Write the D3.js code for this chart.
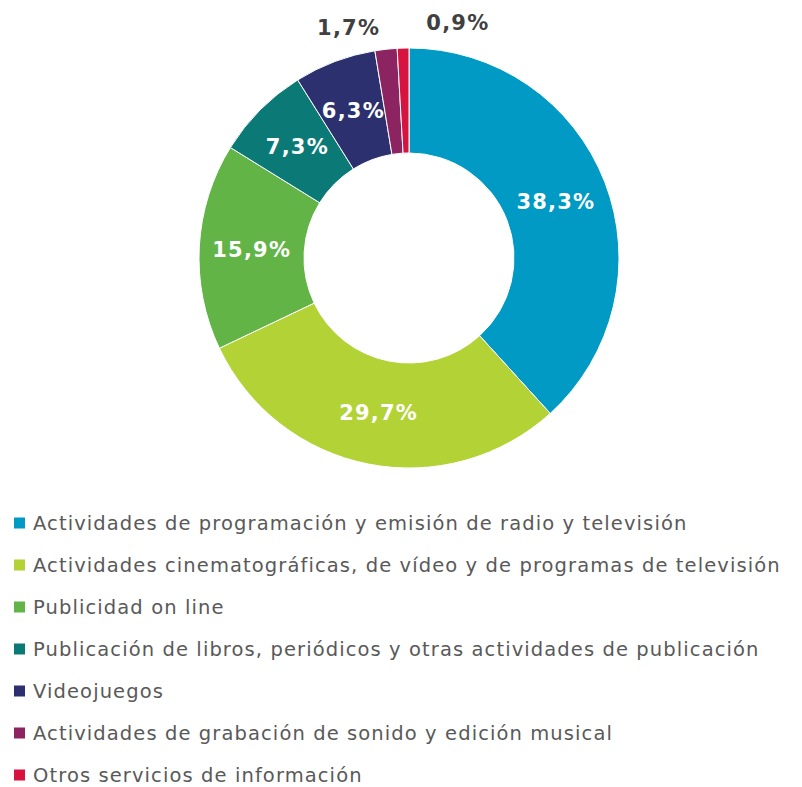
<!DOCTYPE html>
<html>
<head>
<meta charset="utf-8">
<script src="https://cdn.jsdelivr.net/npm/d3@7"></script>
<style>
  body { margin: 0; background: #fff; }
  svg { display: block; font-family: "DejaVu Sans", Verdana, sans-serif; }
</style>
</head>
<body>
<svg id="chart" width="802" height="787"></svg>
<script>
  var categories = [
    "Actividades de programación y emisión de radio y televisión",
    "Actividades cinematográficas, de vídeo y de programas de televisión",
    "Publicidad on line",
    "Publicación de libros, periódicos y otras actividades de publicación",
    "Videojuegos",
    "Actividades de grabación de sonido y edición musical",
    "Otros servicios de información"
  ];
  var shares = [38.3, 29.7, 15.9, 7.3, 6.3, 1.7, 0.9];
  var labels = ["38,3%", "29,7%", "15,9%", "7,3%", "6,3%", "1,7%", "0,9%"];
  var colors = ["#009ac4", "#b2d235", "#62b446", "#0b7a77", "#2c306e", "#8b2460", "#d6143f"];

  var cx = 409, cy = 258;
  var outer = 210, inner = 105;

  var svg = d3.select("#chart");
  var g = svg.append("g").attr("transform", "translate(" + cx + "," + cy + ")");

  var pie = d3.pie().sort(null).value(function(d) { return d; });
  var arcs = pie(shares);
  var arc = d3.arc().innerRadius(inner).outerRadius(outer);
  var outArc = d3.arc().innerRadius(236).outerRadius(236);

  g.selectAll("path")
    .data(arcs)
    .enter().append("path")
      .attr("d", arc)
      .attr("fill", function(d, i) { return colors[i]; })
      .attr("stroke", "#fff")
      .attr("stroke-width", 1);

  // big slices get a white label inside, tiny ones go outside
  var small = 0;
  g.selectAll("text.lbl")
    .data(arcs)
    .enter().append("text")
      .attr("class", "lbl")
      .each(function(d, i) {
        var t = d3.select(this);
        if (shares[i] >= 5) {
          var c = arc.centroid(d);
          t.attr("x", c[0]).attr("y", c[1])
            .attr("text-anchor", "middle")
            .attr("fill", "#fff");
        } else {
          var c2 = outArc.centroid(d);
          var left = small % 2 === 0;
          small++;
          t.attr("x", c2[0] + (left ? -3 : 24)).attr("y", c2[1] + (left ? 4 : 0))
            .attr("text-anchor", left ? "end" : "start")
            .attr("fill", "#404040");
        }
      })
      .attr("dy", "0.36em")
      .attr("font-size", 21)
      .attr("font-weight", "bold")
      .attr("letter-spacing", 1.2)
      .text(function(d, i) { return labels[i]; });

  var legend = svg.append("g").attr("transform", "translate(14,523)");
  var row = legend.selectAll("g")
    .data(categories)
    .enter().append("g")
      .attr("transform", function(d, i) { return "translate(0," + (i * 42) + ")"; });

  row.append("rect")
    .attr("x", 0).attr("y", -5.5)
    .attr("width", 11).attr("height", 11)
    .attr("fill", function(d, i) { return colors[i]; });

  row.append("text")
    .attr("x", 19).attr("dy", "0.36em")
    .attr("font-size", 19.5)
    .attr("letter-spacing", 1.1)
    .attr("fill", "#595959")
    .text(function(d) { return d; });
</script>
</body>
</html>
